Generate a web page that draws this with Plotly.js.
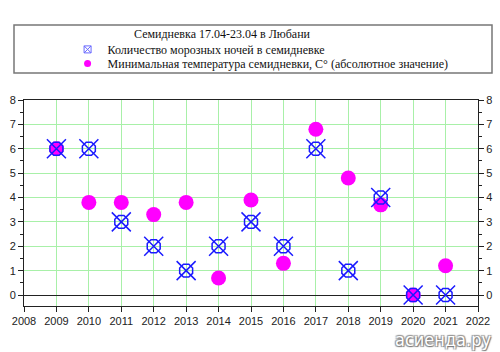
<!DOCTYPE html>
<html><head><meta charset="utf-8">
<script src="https://cdn.plot.ly/plotly-3.0.1.min.js"></script>
<style>body{margin:0;padding:0;background:#fff}#chart{width:500px;height:352px}</style>
</head><body><div id="chart"></div>
<script>
var years = [2009,2010,2011,2012,2013,2014,2015,2016,2017,2018,2019,2020,2021];
var frostNights = [6,6,3,2,1,2,3,2,6,1,4,0,0];
var minTemp = [6.0,3.8,3.8,3.3,3.8,0.7,3.9,1.3,6.8,4.8,3.7,0,1.2];
var xTicks = [2008,2009,2010,2011,2012,2013,2014,2015,2016,2017,2018,2019,2020,2021,2022];
var yTicks = [0,1,2,3,4,5,6,7,8];
var chartTitle = 'Семидневка 17.04-23.04 в Любани';
var name1 = 'Количество морозных ночей в семидневке';
var name2 = 'Минимальная температура семидневки, С° (абсолютное значение)';

var blue = '#1a1aff';
var traces = [
  {x: years, y: minTemp, type:'scatter', mode:'markers', showlegend:false,
   marker:{symbol:'circle', size:15, color:'#ff00ff'}},
  {x: years, y: frostNights, type:'scatter', mode:'markers', showlegend:false,
   marker:{symbol:'octagon-open', size:14, color: blue, line:{color: blue, width:1.5}}},
  {x: years, y: frostNights, type:'scatter', mode:'markers', showlegend:false, hoverinfo:'skip',
   marker:{symbol:'x-thin-open', size:19, color: blue, line:{color: blue, width:1.5}}},
  {x: years, y: frostNights, type:'scatter', mode:'markers', yaxis:'y2', showlegend:false,
   hoverinfo:'skip', marker:{opacity:0}},
  // legend entries
  {x:[null], y:[null], type:'scatter', mode:'markers', name:name1, legend:'legend',
   marker:{symbol:'square-x-open', size:7, color:'#6a6aff', line:{color:'#6a6aff', width:1}}},
  {x:[null], y:[null], type:'scatter', mode:'markers', name:name2, legend:'legend2',
   marker:{symbol:'circle', size:7, color:'#ff00ff'}}
];
var axFont = {family:'Liberation Sans, Arial, sans-serif', size:11, color:'#222'};
var legFont = {family:'Liberation Serif, Times New Roman, serif', size:12, color:'#111'};
var layout = {
  width:500, height:352,
  margin:{l:24, r:22, t:100, b:46},
  paper_bgcolor:'#fff', plot_bgcolor:'#fff',
  showlegend:true,
  legend:{x:0.096, xanchor:'left', y:1.316, yanchor:'top', bgcolor:'rgba(0,0,0,0)', borderwidth:0,
    font:legFont, itemwidth:30},
  legend2:{x:0.096, xanchor:'left', y:1.248, yanchor:'top', bgcolor:'rgba(0,0,0,0)', borderwidth:0,
    font:legFont, itemwidth:30},
  xaxis:{range:[2008,2022], tickvals:xTicks, ticktext:xTicks.map(String), tickfont:axFont,
    showgrid:true, gridcolor:'#a8f0a8', gridwidth:1, ticks:'outside', ticklen:5, tickcolor:'#222',
    showline:true, linecolor:'#222', linewidth:1, mirror:true, zeroline:false},
  yaxis:{range:[-0.45,8], tickvals:yTicks, tickfont:axFont, showgrid:true, gridcolor:'#a8f0a8',
    ticks:'outside', ticklen:5, tickcolor:'#222', showline:true, linecolor:'#222', linewidth:1,
    zeroline:true, zerolinecolor:'#222', zerolinewidth:1,
    minor:{dtick:0.5, tick0:0, ticks:'outside', ticklen:3, tickcolor:'#222', showgrid:false}},
  yaxis2:{range:[-0.45,8], overlaying:'y', side:'right', tickvals:yTicks, tickfont:axFont,
    showgrid:false, ticks:'outside', ticklen:5, tickcolor:'#222', showline:true, linecolor:'#222',
    zeroline:false, minor:{dtick:0.5, tick0:0, ticks:'outside', ticklen:3, tickcolor:'#222'}},
  shapes:[{type:'rect', xref:'paper', yref:'paper',
    x0:(14-24)/454, x1:(492-24)/454, y0:(306-73)/206, y1:(306-25)/206,
    line:{color:'#777', width:1.5}, fillcolor:'rgba(0,0,0,0)'}],
  annotations:[
    {text: chartTitle, xref:'paper', yref:'paper', x:(222-24)/454, y:(306-34)/206,
     xanchor:'center', yanchor:'middle', showarrow:false,
     font:{family:'Liberation Serif, Times New Roman, serif', size:12, color:'#111'}},
    {text:'асиенда.ру', xref:'paper', yref:'paper', x:(493-24)/454, y:(306-339)/206,
     xanchor:'right', yanchor:'middle', showarrow:false,
     font:{family:'DejaVu Sans Condensed, Liberation Sans Narrow, sans-serif', size:18, color:'#ffffff',
       shadow:'1px 1px 1px #777, -1px -1px 1px #999, 1px -1px 1px #999, -1px 1px 1px #999'}}
  ]
};
Plotly.newPlot('chart', traces, layout, {displayModeBar:false, staticPlot:true});
</script></body></html>
